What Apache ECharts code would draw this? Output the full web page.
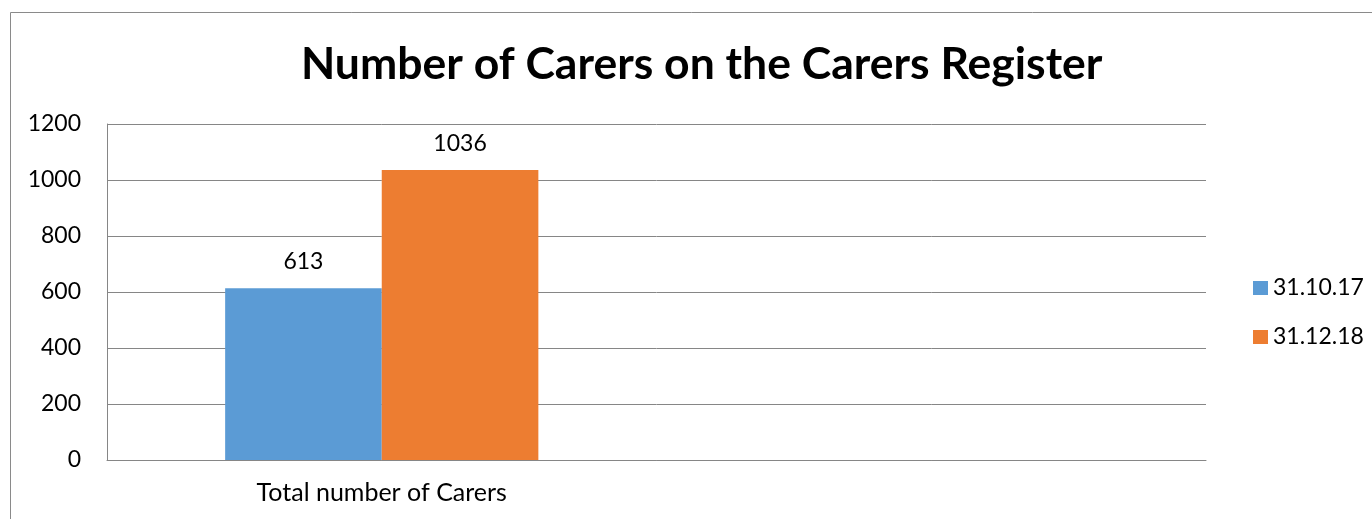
<!DOCTYPE html>
<html><head><meta charset="utf-8">
<style>html,body{margin:0;padding:0;background:#fff;}#c{width:1372px;height:519px;}</style>
<script src="https://cdn.jsdelivr.net/npm/echarts@6/dist/echarts.min.js"></script>
</head><body><div id="c"></div>
<script>
var categories = ['Total number of Carers', ''];
var series1Name = '31.10.17';
var series2Name = '31.12.18';
var series1Values = [613, null];
var series2Values = [1036, null];
var chart = echarts.init(document.getElementById('c'));
var font = 'Lato, "Open Sans", sans-serif';
chart.setOption({
  animation: false,
  backgroundColor: '#fff',
  graphic: [{type:'rect', shape:{x:10.5,y:12.5,width:1400,height:600}, style:{fill:'none',stroke:'#8a8a8a',lineWidth:1}, silent:true}],
  title: {text:'Number of Carers on the Carers Register', left:296, top:37, textStyle:{fontFamily:font, fontWeight:'bold', fontSize:44.5, color:'#000'}},
  legend: {orient:'vertical', left:1248, top:271, itemWidth:15, itemHeight:14, itemGap:25, icon:'rect',
    textStyle:{fontFamily:font, fontSize:23, color:'#000', lineHeight:24}, data:[series1Name, series2Name]},
  grid: {left:107, top:124, right:166, bottom:59},
  xAxis: {type:'category', data:categories, axisTick:{show:false},
    axisLine:{lineStyle:{color:'#868686', width:1}},
    axisLabel:{fontFamily:font, fontSize:25, color:'#000', margin:20}},
  yAxis: {type:'value', min:0, max:1200, interval:200,
    axisLine:{show:true, lineStyle:{color:'#868686'}},
    splitLine:{lineStyle:{color:'#868686'}},
    axisLabel:{fontFamily:font, fontSize:23, color:'#000', margin:26, formatter:function(v){return String(v);}}},
  series: [
    {name:series1Name, type:'bar', data:series1Values, barGap:'0%', barCategoryGap:'43%', itemStyle:{color:'#5B9BD5'},
     label:{show:true, position:'top', distance:15, fontFamily:font, fontSize:23, color:'#000'}},
    {name:series2Name, type:'bar', data:series2Values, itemStyle:{color:'#ED7D31'},
     label:{show:true, position:'top', distance:15, fontFamily:font, fontSize:23, color:'#000'}}
  ]
});
</script></body></html>
